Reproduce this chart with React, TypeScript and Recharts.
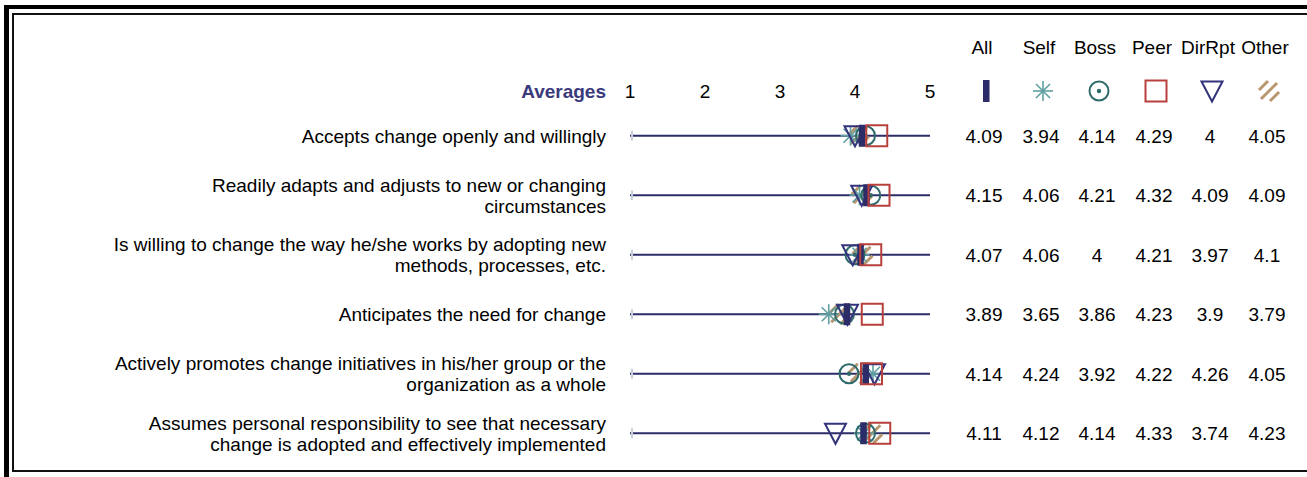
import React from 'react';
import { ScatterChart, Scatter, XAxis, YAxis, ReferenceLine } from 'recharts';

const categories = [
  'Accepts change openly and willingly',
  'Readily adapts and adjusts to new or changing\ncircumstances',
  'Is willing to change the way he/she works by adopting new\nmethods, processes, etc.',
  'Anticipates the need for change',
  'Actively promotes change initiatives in his/her group or the\norganization as a whole',
  'Assumes personal responsibility to see that necessary\nchange is adopted and effectively implemented',
];
const seriesNames = ['All', 'Self', 'Boss', 'Peer', 'DirRpt', 'Other'];
const allValues = [4.09, 4.15, 4.07, 3.89, 4.14, 4.11];
const selfValues = [3.94, 4.06, 4.06, 3.65, 4.24, 4.12];
const bossValues = [4.14, 4.21, 4, 3.86, 3.92, 4.14];
const peerValues = [4.29, 4.32, 4.21, 4.23, 4.22, 4.33];
const dirRptValues = [4, 4.09, 3.97, 3.9, 4.26, 3.74];
const otherValues = [4.05, 4.09, 4.1, 3.79, 4.05, 4.23];
const scaleTicks = [1, 2, 3, 4, 5];

const NAVY = '#2c2c68';
const SELF = '#5e9fa0';
const BOSS = '#2f6b6b';
const PEER = '#b8403c';
const DIR = '#34347c';
const OTHER = '#b8966e';
const FONT = '"Liberation Sans", Arial, sans-serif';
const FS = 19;

const rowIdx = categories.map((_, i) => i);
const toPoints = (vals: number[]) => vals.map((v, i) => ({ x: v, y: i }));
const valueColumns = [allValues, selfValues, bossValues, peerValues, dirRptValues, otherValues];
const colOffsets = [54, 111, 167, 224, 280, 337];

const AllMark = ({ cx, cy }: any) => <rect x={cx - 3} y={cy - 11} width={6.5} height={22} fill={NAVY} />;
const SelfMark = ({ cx, cy }: any) => (
  <g stroke={SELF} strokeWidth={1.6}>
    <line x1={cx} y1={cy - 10} x2={cx} y2={cy + 10} />
    <line x1={cx - 10} y1={cy} x2={cx + 10} y2={cy} />
    <line x1={cx - 7} y1={cy - 7} x2={cx + 7} y2={cy + 7} />
    <line x1={cx - 7} y1={cy + 7} x2={cx + 7} y2={cy - 7} />
  </g>
);
const BossMark = ({ cx, cy }: any) => (
  <g>
    <circle cx={cx} cy={cy} r={9.5} fill="none" stroke={BOSS} strokeWidth={2} />
    <circle cx={cx} cy={cy} r={2.2} fill={BOSS} />
  </g>
);
const PeerMark = ({ cx, cy }: any) => (
  <rect x={cx - 10.5} y={cy - 10.5} width={21} height={21} fill="none" stroke={PEER} strokeWidth={2} />
);
const DirMark = ({ cx, cy }: any) => (
  <path d={`M${cx - 10.5},${cy - 9.5} L${cx + 10.5},${cy - 9.5} L${cx},${cy + 10.5} Z`} fill="none" stroke={DIR} strokeWidth={2} />
);
const OtherMark = ({ cx, cy }: any) => (
  <g stroke={OTHER} strokeWidth={3}>
    <line x1={cx - 10} y1={cy - 1} x2={cx - 1} y2={cy - 10} />
    <line x1={cx - 8} y1={cy + 8} x2={cx + 8} y2={cy - 8} />
    <line x1={cx + 1} y1={cy + 10} x2={cx + 10} y2={cy + 1} />
  </g>
);
const NoMark = () => <g />;
const markShapes = [AllMark, SelfMark, BossMark, PeerMark, DirMark, OtherMark];

const RowLabel = ({ x, y, payload }: any) => {
  const lines = categories[payload.value].split('\n');
  const lh = 21;
  const y0 = y + 7 - ((lines.length - 1) * lh) / 2;
  return (
    <text x={x} y={y0} textAnchor="end" fontSize={FS} fontFamily={FONT} fill="#000">
      {lines.map((l: string, i: number) => (
        <tspan key={i} x={x} y={y0 + i * lh}>{l}</tspan>
      ))}
    </text>
  );
};

const RowValues = ({ x, y, payload }: any) => (
  <g>
    {valueColumns.map((vals, k) => (
      <text key={k} x={x + colOffsets[k]} y={y + 7} textAnchor="middle" fontSize={FS} fontFamily={FONT} fill="#000">
        {vals[payload.value]}
      </text>
    ))}
  </g>
);

const ScaleTick = ({ x, y, payload }: any) => (
  <text x={x} y={y} textAnchor="middle" fontSize={FS} fontFamily={FONT} fill="#000">{payload.value}</text>
);

const RangeLine = ({ x1, y1, x2, y2 }: any) => (
  <g>
    <line x1={x1} y1={y1} x2={x2} y2={y2} stroke={NAVY} strokeWidth={2} />
    <line x1={x1 + 2} y1={y1 - 5} x2={x1 + 2} y2={y1 + 5} stroke="#c8d0d8" strokeWidth={2} />
  </g>
);

export default function App() {
  return (
    <div style={{ position: 'absolute', left: 0, top: 0, width: 1307, height: 477, background: '#fff', fontFamily: FONT }}>
      <div style={{ position: 'absolute', left: 4, top: 5, width: 1303, height: 4, background: '#000' }} />
      <div style={{ position: 'absolute', left: 4, top: 5, width: 5, height: 472, background: '#000' }} />
      <div style={{ position: 'absolute', left: 12, top: 13, width: 1295, height: 2, background: '#111' }} />
      <div style={{ position: 'absolute', left: 12, top: 13, width: 2, height: 459, background: '#111' }} />
      <div style={{ position: 'absolute', left: 12, top: 470, width: 1295, height: 2, background: '#111' }} />
      <svg style={{ position: 'absolute', left: 0, top: 0 }} width={1307} height={110}>
        {seriesNames.map((n, k) => {
          const cx = 930 + colOffsets[k];
          const Shape = markShapes[k];
          return (
            <g key={n}>
              <text x={cx - 2} y={54} textAnchor="middle" fontSize={FS} fontFamily={FONT} fill="#000">{n}</text>
              <Shape cx={cx + 2} cy={91} />
            </g>
          );
        })}
        <text x={606} y={98} textAnchor="end" fontSize={FS} fontWeight="bold" fontFamily={FONT} fill="#3a3a7c">Averages</text>
      </svg>
      <div style={{ position: 'absolute', left: 0, top: 0 }}>
        <ScatterChart width={1307} height={477} margin={{ top: 76, right: 0, bottom: 14, left: 0 }}>
          <XAxis type="number" dataKey="x" orientation="top" domain={[1, 5]} ticks={scaleTicks} height={30}
            axisLine={false} tickLine={false} tickSize={0} tickMargin={8} tick={<ScaleTick />} />
          <YAxis yAxisId="left" type="number" dataKey="y" domain={[-0.5, 5.5]} reversed ticks={rowIdx} width={630}
            axisLine={false} tickLine={false} tickSize={0} tickMargin={24} tick={<RowLabel />} interval={0} />
          <YAxis yAxisId="right" orientation="right" type="number" dataKey="y" domain={[-0.5, 5.5]} reversed ticks={rowIdx} width={377}
            axisLine={false} tickLine={false} tickSize={0} tickMargin={0} tick={<RowValues />} interval={0} />
          {rowIdx.map((i) => (
            <ReferenceLine key={i} yAxisId="left" segment={[{ x: 1, y: i }, { x: 5, y: i }]} shape={<RangeLine />} />
          ))}
          <Scatter yAxisId="right" data={toPoints(allValues)} shape={<NoMark />} isAnimationActive={false} />
          <Scatter yAxisId="left" data={toPoints(otherValues)} shape={<OtherMark />} isAnimationActive={false} />
          <Scatter yAxisId="left" data={toPoints(selfValues)} shape={<SelfMark />} isAnimationActive={false} />
          <Scatter yAxisId="left" data={toPoints(bossValues)} shape={<BossMark />} isAnimationActive={false} />
          <Scatter yAxisId="left" data={toPoints(dirRptValues)} shape={<DirMark />} isAnimationActive={false} />
          <Scatter yAxisId="left" data={toPoints(allValues)} shape={<AllMark />} isAnimationActive={false} />
          <Scatter yAxisId="left" data={toPoints(peerValues)} shape={<PeerMark />} isAnimationActive={false} />
        </ScatterChart>
      </div>
    </div>
  );
}
